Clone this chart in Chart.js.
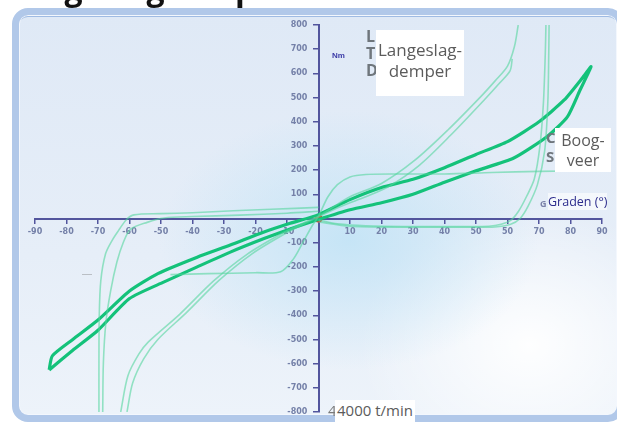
<!DOCTYPE html>
<html>
<head>
<meta charset="utf-8">
<script src="https://cdn.jsdelivr.net/npm/chart.js@4.4.1/dist/chart.umd.min.js"></script>
<style>
  html, body { margin: 0; padding: 0; background: #fff; }
  #wrap { position: relative; width: 617px; height: 423px; overflow: hidden; font-family: "Open Sans", sans-serif; }
  #panel {
    position: absolute; left: 12px; top: 8px; width: 598px; height: 400px;
    border: 7px solid #b1c8e9; border-radius: 16px;
    box-shadow: inset 0 0 0 1px #f3f7fd, inset 0 3px 0 -1px #9fbbe3;
    background:
      radial-gradient(ellipse 190px 130px at 330px 225px, rgba(192,227,246,0.85), rgba(192,227,246,0)),
      radial-gradient(ellipse 170px 140px at 510px 330px, rgba(255,255,255,0.95), rgba(255,255,255,0)),
      linear-gradient(180deg, #dfe9f6 0%, #e6eef8 60%, #edf3fa 100%);
  }
  #chart { position: absolute; left: 0; top: 0; z-index: 1; }
  .t { position: absolute; z-index: 2; white-space: nowrap; }
  .box { background: #fff; color: #5b5b5b; text-align: center; }
</style>
</head>
<body>
<div id="wrap">
  <div id="panel"></div>
  <div class="t" style="left:6px; top:-28px; font: bold 32px/32px 'Open Sans'; color:#111;">Langeslagdemper</div>
  <canvas id="chart" width="617" height="423"></canvas>

  <div class="t" style="left:332px; top:51px; font: bold 8px 'Liberation Sans'; color:#3a3aa6;">Nm</div>
  <div class="t" style="left:366px; top:28px; font: bold 16px/17px 'Open Sans'; color:#6f767c;">L<br>T<br>D</div>
  <div class="t box" style="left:376px; top:30px; width:88px; height:66px; font: 17px/21px 'Open Sans';"><div style="padding-top:9px">Langeslag-<br>demper</div></div>

  <div class="t" style="left:546px; top:128px; font: bold 15px/19px 'Open Sans'; color:#6f767c;">C<br>S</div>
  <div class="t box" style="left:555px; top:128px; width:56px; height:44px; font: 16px/20px 'Open Sans';"><div style="padding-top:2px">Boog-<br>veer</div></div>

  <div class="t" style="left:540px; top:197px; font: bold 9px 'Open Sans'; color:#7a80a8;">G</div>
  <div class="t" style="left:548px; top:193px; font: 12.5px 'Open Sans'; color:#2c2c8c; background: rgba(255,255,255,0.6);">Graden (°)</div>

  <div class="t" style="left:82px; top:271px; font: 5px 'Liberation Sans'; color:#777;">——</div>

  <div class="t" style="left:328px; top:400px; font: 15px 'Open Sans'; color:#7a7a7a;">4</div>
  <div class="t box" style="left:335px; top:400px; width:80px; height:23px; font: 15px/21px 'Open Sans'; color:#5b5b5b;">4000 t/min</div>
</div>

<script>
// tick labels as printed on the original (60 is printed as "50")
const xTickValues = [-90, -80, -70, -60, -50, -40, -30, -20, -10, 0, 10, 20, 30, 40, 50, 60, 70, 80, 90];
const xTickLabels = ['-90', '-80', '-70', '-60', '-50', '-40', '-30', '-20', '-10', '', '10', '20', '30', '40', '50', '50', '70', '80', '90'];
const yTickValues = [-800, -700, -600, -500, -400, -300, -200, -100, 0, 100, 200, 300, 400, 500, 600, 700, 800];
const yTickLabels = ['-800', '-700', '-600', '-500', '-400', '-300', '-200', '-100', '', '100', '200', '300', '400', '500', '600', '700', '800'];

// boogveer hysteresis loop [graden, Nm]
const boogveerLoop = [
  [-85.5, -626], [-84.5, -568], [-78, -500], [-70, -420], [-60, -300], [-51, -228],
  [-38.5, -160], [-28, -110], [-17.5, -57], [-9, -20], [0, 16], [10, 78], [20, 128],
  [30, 162], [40, 210], [50, 265], [60, 318], [70, 400], [78, 490], [84, 585], [86.5, 628],
  [85.5, 598], [83, 530], [79, 420], [72.5, 338], [62, 250], [50, 197], [40, 150],
  [30, 100], [20, 65], [10, 36], [0, -4], [-9, -43], [-17.5, -84], [-28, -139],
  [-38.5, -200], [-49, -262], [-60, -331], [-70, -462], [-78, -545], [-85.5, -626]
];

// langeslagdemper (two branches)
const demperHeen = [
  [-62.8, -800], [-60.5, -650], [-57, -560], [-54, -510], [-44, -395], [-33.3, -258],
  [-22.7, -148], [-12.2, -66], [-4.8, -18], [0, 10], [5, 50], [10, 90], [20, 145],
  [30.5, 240], [41, 365], [51.6, 505], [56, 568], [60, 630], [62.2, 711], [63.4, 800]
];
const demperTerug = [
  [-60.8, -800], [-59, -680], [-55.5, -580], [-51, -500], [-42, -390], [-31.5, -255],
  [-21, -145], [-10.5, -62], [-3, -12], [2, 20], [8, 55], [15, 90], [22, 130],
  [32, 220], [42, 345], [52.6, 490], [57.5, 560], [60.8, 610], [61.5, 660]
];

// plateau curve
const plateau = [
  [-47, -232], [-35, -228], [-20, -224], [-12, -220], [-8, -168], [-5, -100], [-2, -30],
  [0, 10], [3, 90], [6, 140], [10, 172], [15, 182], [25, 184], [40, 184], [55, 190],
  [70, 195], [88, 197]
];

// steep curve on the left (two branches)
const linksHeen = [
  [-69.7, -800], [-69.7, -600], [-69.6, -400], [-69.1, -256], [-67.6, -146], [-65.5, -90],
  [-63.5, -50], [-61, -5], [-58.6, 15], [-50, 20], [-40, 24], [-27, 32], [-15, 38], [0, 46]
];
const linksTerug = [
  [-68.5, -800], [-68.3, -600], [-67.5, -430], [-66, -300], [-64, -180], [-62, -100],
  [-59.7, -45], [-54.4, -16], [-49, 2], [-40, 8], [-25, 14], [-10, 22], [0, 30]
];

// steep curve on the right (two branches)
const rechtsHeen = [
  [0, -6], [6, -22], [15, -30], [30, -33], [45, -33], [54, -32], [58, -24], [61, -8],
  [63.5, 30], [66, 90], [68.5, 163], [70.3, 300], [71.4, 478], [72, 684], [72.2, 800]
];
const rechtsTerug = [
  [0, -14], [10, -32], [25, -36], [45, -36], [56, -35], [61, -24], [64, 0], [66.5, 50],
  [69.5, 140], [71.8, 280], [72.8, 480], [73.1, 684], [73.2, 800]
];

const nulpunt = [[0, 0]];

const toXY = arr => arr.map(p => ({ x: p[0], y: p[1] }));

const thin = (data) => ({
  data: toXY(data),
  showLine: true,
  borderColor: 'rgba(85, 214, 158, 0.6)',
  borderWidth: 1.6,
  pointRadius: 0,
  tension: 0.3,
  fill: false
});

const axisColor = '#52559d';
const tickFont = { family: 'DejaVu Sans', size: 8, weight: 'bold' };
// a y axis placed at x = 0 draws its labels flush against the axis line,
// so keep a gap with a few non-breaking spaces
const yGap = '\u00a0\u00a0\u00a0\u00a0';

new Chart(document.getElementById('chart').getContext('2d'), {
  type: 'scatter',
  data: {
    datasets: [
      thin(demperHeen),
      thin(demperTerug),
      thin(plateau),
      thin(linksHeen),
      thin(linksTerug),
      thin(rechtsHeen),
      thin(rechtsTerug),
      {
        data: toXY(boogveerLoop),
        showLine: true,
        borderColor: '#14c27a',
        borderWidth: 3.2,
        pointRadius: 0,
        tension: 0.2,
        fill: false
      },
      {
        data: toXY(nulpunt),
        pointRadius: 4,
        pointBackgroundColor: '#e8321e',
        pointBorderWidth: 0
      }
    ]
  },
  options: {
    responsive: false,
    animation: false,
    layout: { padding: { left: 35, right: 15, top: 25, bottom: 11 } },
    plugins: { legend: { display: false }, tooltip: { enabled: false } },
    scales: {
      x: {
        type: 'linear',
        min: -90,
        max: 90,
        position: { y: 0 },
        afterBuildTicks: axis => { axis.ticks = xTickValues.map(v => ({ value: v })); },
        border: { color: axisColor, width: 2 },
        grid: { drawOnChartArea: false, color: axisColor, lineWidth: 1.5, tickLength: 4 },
        ticks: {
          autoSkip: false,
          maxRotation: 0,
          padding: 5,
          color: '#7480a8',
          font: tickFont,
          callback: v => xTickLabels[xTickValues.indexOf(v)]
        }
      },
      y: {
        type: 'linear',
        min: -800,
        max: 800,
        position: { x: 0 },
        afterBuildTicks: axis => { axis.ticks = yTickValues.map(v => ({ value: v })); },
        border: { color: axisColor, width: 2 },
        grid: { drawOnChartArea: false, color: axisColor, lineWidth: 1.5, tickLength: 5 },
        ticks: {
          autoSkip: false,
          color: '#7480a8',
          font: tickFont,
          callback: v => {
            const lbl = yTickLabels[yTickValues.indexOf(v)];
            return lbl ? lbl + yGap : '';
          }
        }
      }
    }
  }
});
</script>
</body>
</html>
